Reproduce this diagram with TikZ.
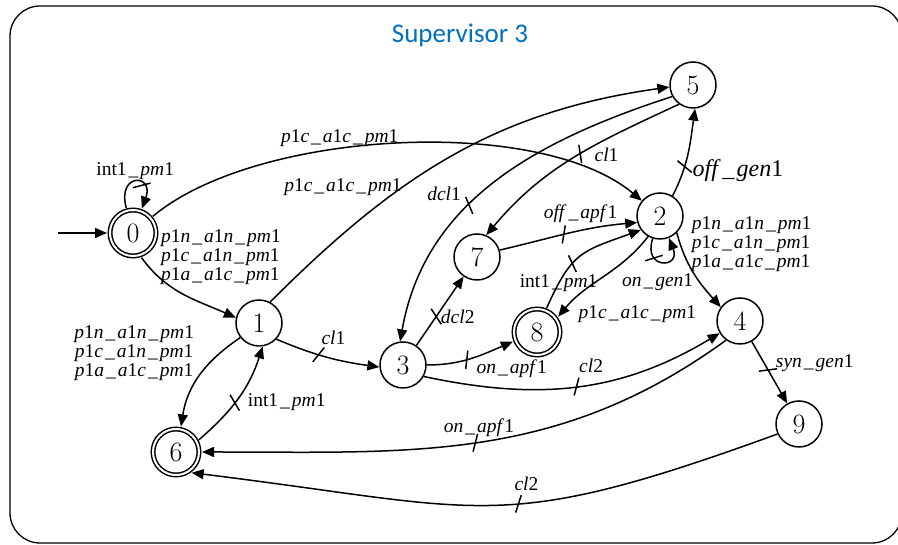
\documentclass[tikz,border=0pt]{standalone}
\usepackage{fontspec}
\usepackage{tikz}
\usetikzlibrary{arrows.meta,decorations.markings}
\newfontfamily\tnr{Liberation Serif}
\newfontfamily\titlefont{Carlito}
\definecolor{titleblue}{RGB}{0,112,192}
\newcommand{\usc}{\kern2pt\_\kern2pt}
\newcommand{\pcac}{\textit{p}1\textit{c}\usc\textit{a}1\textit{c}\usc\textit{pm}1}
\newcommand{\pnan}{\textit{p}1\textit{n}\usc\textit{a}1\textit{n}\usc\textit{pm}1}
\newcommand{\pcan}{\textit{p}1\textit{c}\usc\textit{a}1\textit{n}\usc\textit{pm}1}
\newcommand{\paac}{\textit{p}1\textit{a}\usc\textit{a}1\textit{c}\usc\textit{pm}1}
\newcommand{\intpm}{int1\usc\textit{pm}1}

\begin{document}
\begin{tikzpicture}[x=1pt, y=1pt, line width=1.5pt,
    st/.style={circle, draw, minimum size=46pt, inner sep=0pt, font=\fontsize{28}{28}\selectfont},
    acc/.style={st, double, double distance=2pt, minimum size=46pt, outer sep=3pt},
    arr/.style={-{Triangle[length=12pt,width=10pt]}},
    lbl/.style={font=\tnr\fontsize{19.5}{19}\selectfont, inner sep=1pt},
    ctrl/.style={postaction={decorate, decoration={markings, mark=at position #1 with {\draw[-] (-3.5pt,-8.5pt) -- (3.5pt,8.5pt);}}}}
  ]
    \useasboundingbox (0,0) rectangle (898,545);
    \draw[rounded corners=30pt, line width=1.3pt] (10,2) rectangle (902,539);
    \node[font=\titlefont\fontsize{27}{27}\selectfont, text=titleblue] (title) at (460,510) {Supervisor 3};

    \node[acc] (q0) at (133,312) {0};
    \node[st] (q1) at (259,222) {1};
    \node[st] (q2) at (660,329) {2};
    \node[st] (q3) at (403,180) {3};
    \node[st] (q4) at (740,224) {4};
    \node[st] (q5) at (693,460) {5};
    \node[acc] (q6) at (176,93) {6};
    \node[st] (q7) at (477,288) {7};
    \node[acc] (q8) at (537,213) {8};
    \node[st] (q9) at (799,121) {9};
    \coordinate (init) at (58,312);

    \draw[arr] (init) -- (q0);
    \draw[arr, ctrl=0.62] (q0) to[out=105, in=70, distance=37pt] node[lbl, above] {\intpm} (q0);
    \draw[arr] (q0) to[out=40, in=140, looseness=0.7] node[lbl, above, pos=0.4] {\pcac} (q2);
    \draw[arr] (q0.-71) to[out=-54, in=156] node[lbl, right=18pt, pos=0, align=left] {\pnan\\\pcan\\\paac} (q1.167);
    \draw[arr] (q1.62) to[out=45, in=188] node[lbl, left, pos=0.37] {\pcac} (q5.185);
    \draw[arr] (q1.218) to[out=214, in=81] node[lbl, left=24pt, pos=0.22, align=center] {\pnan\\\pcan\\\paac} (q6.79);
    \draw[arr, ctrl=0.45] (q6.28) to[out=41, in=252] node[lbl, right=11pt, pos=0.45] {\intpm} (q1.-81);
    \draw[arr, ctrl=0.42] (q1.-43) to[out=-23, in=172] node[lbl, above=12pt, pos=0.57] {\textit{cl}1} (q3.185);
    \draw[arr, ctrl=0.6] (q5.209) to[out=198, in=80] node[lbl, left=10pt, pos=0.58, yshift=8pt] {\textit{dcl}1} (q3.97);
    \draw[arr, ctrl=0.47] (q5.234) to[out=205, in=50] node[lbl, right=10pt, pos=0.45, yshift=-3pt] {\textit{cl}1} (q7.67);
    \draw[arr, ctrl=0.35] (q2.58) to[out=63, in=262] node[lbl, right=6pt, pos=0.35, yshift=-5pt, font=\tnr\fontsize{24}{24}\selectfont] {\textit{off}\usc\textit{gen}1} (q5.-85);
    \draw[arr, ctrl=0.47] (q7.17) to[out=13, in=185] node[lbl, above=6pt, pos=0.6] {\textit{off}\usc\textit{apf}1} (q2.196);
    \draw[arr, ctrl=0.4] (q8.68) to[out=66, in=200, looseness=1.3] node[lbl, pos=0.2, xshift=-2pt, yshift=-3pt] {\intpm} (q2.216);
    \draw[arr, ctrl=0.35] (q2.-108) to[out=-108, in=-68, distance=33pt] node[lbl, below=10pt, xshift=-4pt] {\textit{on}\usc\textit{gen}1} (q2.-68);
    \draw[arr] (q2.240) to[out=232, in=50] node[lbl, right=8pt, pos=0.88, yshift=-9pt] {\pcac} (q8.36);
    \draw[arr] (q2.-45) to[out=-75, in=132] node[lbl, right=10pt, pos=0.12, align=left] {\pnan\\\pcan\\\paac} (q4.144);
    \draw[arr, ctrl=0.42] (q3) -- node[lbl, right=3pt, pos=0.42] {\textit{dcl}2} (q7);
    \draw[arr, ctrl=0.45] (q3.0) to[out=0, in=203] node[lbl, anchor=north west, pos=0.5, xshift=4pt] {\textit{on}\usc\textit{apf}1} (q8.202);
    \draw[arr, ctrl=0.5] (q3.-29) to[out=-12, in=211] node[lbl, above=10pt, pos=0.55] {\textit{cl}2} (q4.211);
    \draw[arr, ctrl=0.5] (q4.234) to[out=216, in=0] node[lbl, above=4pt, pos=0.5] {\textit{on}\usc\textit{apf}1} (q6.0);
    \draw[arr, ctrl=0.46] (q4) -- node[lbl, right=10pt, pos=0.35] {\textit{syn}\usc\textit{gen}1} (q9);
    \draw[arr, ctrl=0.45] (q9.205) to[out=200, in=-7, looseness=1.3] node[lbl, anchor=south west, pos=0.45, yshift=12pt] {\textit{cl}2} (q6.-53);
\end{tikzpicture}
\end{document}
